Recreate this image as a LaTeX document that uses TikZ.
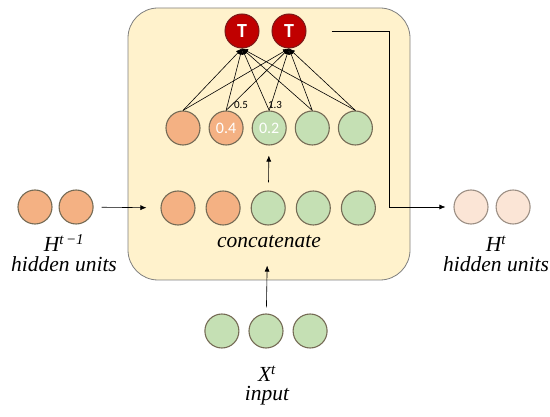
\documentclass[tikz,border=0pt]{standalone}
\usepackage{fontspec}
\setmainfont{Liberation Serif}
\setsansfont{Carlito}
\usepackage{tikz}
\usetikzlibrary{arrows.meta, positioning}
\definecolor{hidfill}{HTML}{F4B183}
\definecolor{inpfill}{HTML}{C5E0B4}
\definecolor{outfill}{HTML}{FBE5D6}
\definecolor{unitline}{HTML}{756B55}
\definecolor{outline}{HTML}{9C8F84}
\definecolor{gatefill}{HTML}{C00000}
\definecolor{gateline}{HTML}{7B1A1A}
\definecolor{cellfill}{HTML}{FFF2CC}
\definecolor{cellline}{HTML}{7F7F7F}
\tikzset{
node distance=8pt,
>={Latex[length=6pt,width=5pt]},
sidestep/.style={to path={-- ++(#1,0) |- (\tikztotarget)}},
unit/.style={%
    circle,
    minimum size=34pt,
    inner sep=0pt,
    draw=unitline,
    line width=1.1pt
},
hid/.style={unit, fill=hidfill},
inp/.style={unit, fill=inpfill},
outunit/.style={unit, fill=outfill, draw=outline},
valued/.style={text=white, font=\sffamily\fontsize{16}{16}\selectfont},
gate/.style={%
    circle,
    minimum size=34pt,
    inner sep=0pt,
    fill=gatefill,
    draw=gateline,
    line width=1pt,
    text=white,
    font=\sffamily\bfseries\fontsize{20}{20}\selectfont
},
cell/.style={%
    rectangle,
    rounded corners=30pt,
    fill=cellfill,
    draw=cellline,
    line width=0.8pt,
    minimum width=282pt,
    minimum height=272pt
},
lab/.style={font=\rmfamily\itshape\fontsize{21.5}{19}\selectfont, inner sep=0pt, anchor=base, align=center},
weight/.style={font=\sffamily\fontsize{11}{11}\selectfont, inner sep=0pt},
link/.style={->, line width=0.6pt},
}

\begin{document}
\begin{tikzpicture}[x=1pt, y=-1pt]
	\useasboundingbox (0,0) rectangle (550,417);
	\node[cell] (cell) at (269,144) {};

	% previous hidden state
	\node[hid] (hp1) at (35,207) {};
	\node[hid, right=6pt of hp1] (hp2) {};
	\node[lab] (hplab) at (64,272) {H\textsuperscript{t\,−1}\\[1pt]hidden units};

	% concatenation
	\node[hid] (c1) at (178,208) {};
	\node[hid, right=10pt of c1] (c2) {};
	\node[inp, right=10pt of c2] (c3) {};
	\node[inp, right=10pt of c3] (c4) {};
	\node[inp, right=10pt of c4] (c5) {};
	\node[lab] (cat) at (269,248) {concatenate};

	% gated units
	\node[hid] (u1) at (183,128) {};
	\node[hid, valued, right=of u1] (u2) {0.4};
	\node[inp, valued, right=of u2] (u3) {0.2};
	\node[inp, right=of u3] (u4) {};
	\node[inp, right=of u4] (u5) {};
	\node[gate] (t1) at (242,31) {T};
	\node[gate, right=12pt of t1] (t2) {T};
	\node[weight] (w1) at (241,105) {0.5};
	\node[weight] (w2) at (275,105) {1.3};

	% input
	\node[inp] (x2) at (266,331) {};
	\node[inp, left=9pt of x2] (x1) {};
	\node[inp, right=9pt of x2] (x3) {};
	\node[lab] (xlab) at (267,401) {X\textsuperscript{t}\\input};

	% next hidden state
	\node[outunit] (ho1) at (471,207) {};
	\node[outunit, right=7pt of ho1] (ho2) {};
	\node[lab] (holab) at (496,272) {H\textsuperscript{t}\\[1pt]hidden units};

	\foreach \i in {1,...,5}
		\foreach \t in {t1,t2}
			\draw[link] (u\i.north) -- (\t.south);

	\draw[link, shorten <=8pt, shorten >=14pt] (hp2) -- (c1);
	\draw[link, shorten <=8pt, shorten >=10pt] (c3) -- (u3);
	\draw[link, shorten <=6pt, shorten >=40pt] (x2) -- (c3);
	\draw[link, shorten <=25pt, shorten >=8pt] (t2.east) to[sidestep=83] (ho1.west);

\end{tikzpicture}
\end{document}
